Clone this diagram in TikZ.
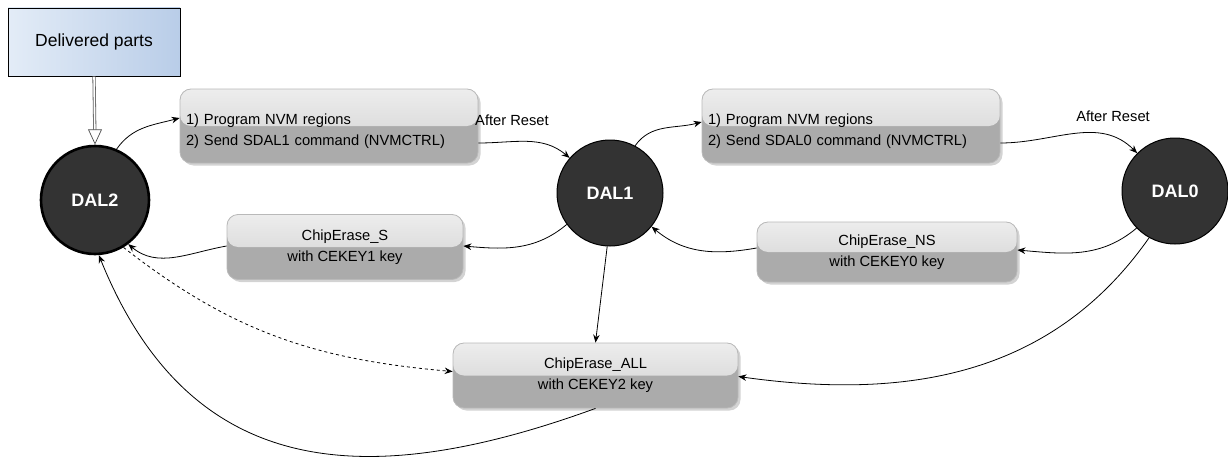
\documentclass[tikz,border=0pt]{standalone}
\usepackage{fontspec}
\setmainfont{Liberation Sans}
\usetikzlibrary{arrows.meta,shadows,calc}
\definecolor{dalfill}{HTML}{333333}
\definecolor{blueL}{HTML}{E3ECF7}
\definecolor{blueR}{HTML}{B9CDE8}
\definecolor{glassTop}{HTML}{EDEDED}
\definecolor{glassMid}{HTML}{CFCFCF}
\definecolor{glassLow}{HTML}{ABABAB}
\tikzset{
  dalnode/.style={circle, fill=dalfill, draw=black, line width=1pt, minimum size=106pt, inner sep=0pt,
    text=white, font=\fontsize{18}{20}\selectfont\bfseries},
  glassbox/.style={rounded corners=11pt, draw=gray!55, line width=0.8pt, fill=glassLow,
    drop shadow={opacity=0.35, shadow xshift=2.5pt, shadow yshift=-2.5pt},
    font=\fontsize{14.7}{21}\selectfont, inner sep=0pt,
    path picture={\shade[top color=glassTop, bottom color=glassMid]
      (path picture bounding box.north west) rectangle (path picture bounding box.east);}},
  conn/.style={-{Stealth[length=8pt,width=6.5pt]}, line width=0.8pt, black},
  lbl/.style={font=\fontsize{14.7}{17}\selectfont},
}
\begin{document}
\begin{tikzpicture}[x=1pt,y=1pt]
\useasboundingbox (0,0) rectangle (1228,-460);

% Delivered parts
\node[draw=black, line width=0.8pt, left color=blueL, right color=blueR,
  minimum width=172pt, minimum height=68pt, inner sep=0pt,
  font=\fontsize{17.5}{20}\selectfont] (dp) at (94,-42) {Delivered parts};

% DAL nodes
\node[dalnode, line width=2.6pt, minimum size=108pt] (dal2) at (95,-200) {DAL2};
\node[dalnode] (dal1) at (610,-193) {DAL1};
\node[dalnode] (dal0) at (1175,-191) {DAL0};

% boxes
\node[glassbox, minimum width=298pt, minimum height=74pt, align=left, text width=286pt] (b1) at (329,-126)
  {\rule{0pt}{21pt}1) Program NVM regions\\2) Send SDAL1 command (NVMCTRL)};
\node[glassbox, minimum width=298pt, minimum height=74pt, align=left, text width=286pt] (b2) at (851,-126)
  {\rule{0pt}{21pt}1) Program NVM regions\\2) Send SDAL0 command (NVMCTRL)};
\node[glassbox, minimum width=236pt, minimum height=65pt, align=center] (ces) at (345,-247)
  {ChipErase\_S\\with CEKEY1 key};
\node[glassbox, minimum width=260pt, minimum height=60pt, align=center] (cens) at (887,-252)
  {ChipErase\_NS\\with CEKEY0 key};
\node[glassbox, minimum width=285pt, minimum height=65pt, align=center] (ceall) at (595.5,-375.5)
  {ChipErase\_ALL\\with CEKEY2 key};

% labels
\node[lbl] (ar1) at (512,-120) {After Reset};
\node[lbl] (ar0) at (1113,-116) {After Reset};

% double arrow from delivered parts
\draw[gray!75!black, line width=3.2pt, shorten >=13pt] (dp.south) -- (dal2.north);
\draw[white, line width=1.6pt, shorten >=12pt, shorten <=0.5pt] (dp.south) -- (dal2.north);
\draw[black!70, fill=white, line width=0.7pt] ($(dal2.north)+(0,1)$) -- ($(dal2.north)+(-6.5,15)$) -- ($(dal2.north)+(6.5,15)$) -- cycle;

% connectors
\draw[conn] (dal2.67) to[out=55, in=195] ([yshift=8pt]b1.west);
\draw[conn] ([yshift=-17pt]b1.east) to[out=0, in=140] (dal1.139);
\draw[conn] (dal1.62) to[out=55, in=195] ([yshift=4pt]b2.west);
\draw[conn] ([yshift=-17pt]b2.east) to[out=0, in=135] (dal0.135);
\draw[conn] (dal0.224) to[out=220, in=-5] ([yshift=2pt]cens.east);
\draw[conn] ([yshift=4pt]cens.west) to[out=190, in=-40] (dal1.-39);
\draw[conn] (dal1.216) to[out=220, in=-5] ([yshift=1pt]ces.east);
\draw[conn] ([yshift=1pt]ces.west) to[out=190, in=-40] (dal2.-53);
\draw[conn] (dal1.-93) -- (ceall.north);
\draw[conn] (dal0.241) to[out=235, in=-8] ([yshift=-1pt]ceall.east);
\draw[conn, dashed] (dal2.-59) to[out=-38, in=175] ([yshift=4pt]ceall.west);
\draw[conn] (ceall.south) to[out=200, in=-68, looseness=1.2] (dal2.-86);
\end{tikzpicture}
\end{document}
